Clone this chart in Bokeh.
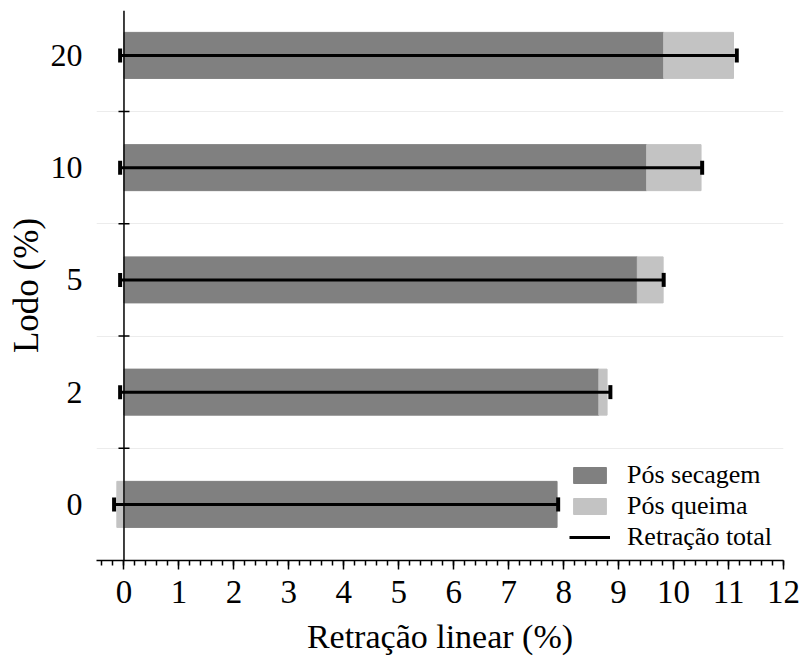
import numpy as np
from bokeh.plotting import figure
from bokeh.models import (FixedTicker, SingleIntervalTicker, Span, Legend,
                          LegendItem, Range1d)
from bokeh.embed import file_html
from bokeh.resources import INLINE

# ---- data ----
lodo = ["0", "2", "5", "10", "20"]                      # Lodo (%)
pos_secagem = [7.88, 8.64, 9.34, 9.51, 9.82]            # Retração pós secagem (%)
pos_queima = [-0.13, 0.15, 0.47, 0.99, 1.27]            # Retração pós queima (%)
retracao_total = [7.90, 8.85, 9.82, 10.52, 11.15]       # Retração total (%)
inicio_total = [-0.18, -0.07, -0.07, -0.07, -0.07]      # start of the total bar line
x_ticks = list(range(0, 13))

FONT = "Liberation Serif"
DARK = "#808080"
LIGHT = "#c3c3c3"

ypos = np.arange(len(lodo), dtype=float)
sec = np.array(pos_secagem)
q = np.array(pos_queima)
q_left = np.where(q >= 0, sec, 0.0)
q_right = np.where(q >= 0, sec + q, q)
limites = list(ypos[:-1] + 0.5)

p = figure(width=800, height=657,
           x_range=Range1d(-0.5, 12), y_range=Range1d(-0.5, 4.4),
           output_backend="svg", toolbar_location=None,
           min_border_left=96, min_border_right=17,
           min_border_top=10, min_border_bottom=94)
p.outline_line_color = None
p.background_fill_color = "white"

r_sec = p.hbar(y=ypos, left=0, right=sec, height=0.41,
               fill_color=DARK, line_color=DARK)
r_q = p.hbar(y=ypos, left=q_left, right=q_right, height=0.41,
             fill_color=LIGHT, line_color=LIGHT)

# vertical axis line at x = 0
p.add_layout(Span(location=0, dimension="height", line_color="black",
                  line_width=1.5))
# boundary ticks on the y axis
p.scatter(x=0, y=limites, marker="dash", size=11, line_width=1.5,
          line_color="black")

# total shrinkage lines with caps
r_err = p.segment(x0=inicio_total, y0=ypos, x1=retracao_total, y1=ypos,
                  line_color="black", line_width=3)
p.scatter(x=inicio_total, y=ypos, marker="dash", angle=np.pi / 2, size=14,
          line_width=4, line_color="black")
p.scatter(x=retracao_total, y=ypos, marker="dash", angle=np.pi / 2, size=14,
          line_width=4, line_color="black")

# x axis
xa = p.xaxis[0]
xa.ticker = SingleIntervalTicker(interval=1, num_minor_ticks=5)
xa.axis_label = "Retração linear (%)"
xa.axis_line_width = 1.5
xa.major_tick_line_width = 1.5
xa.minor_tick_line_width = 1.5
xa.major_tick_in = 0
xa.major_tick_out = 9
xa.minor_tick_in = 0
xa.minor_tick_out = 5
xa.major_label_text_font = FONT
xa.major_label_text_font_size = "33px"
xa.major_label_text_color = "black"
xa.major_label_standoff = 11
xa.axis_label_text_font = FONT
xa.axis_label_text_font_size = "34px"
xa.axis_label_text_font_style = "normal"
xa.axis_label_text_color = "black"
xa.axis_label_standoff = 12

# y axis (labels only; the line is the span at x = 0)
ya = p.yaxis[0]
ya.ticker = FixedTicker(ticks=list(ypos))
ya.major_label_overrides = {float(i): s for i, s in enumerate(lodo)}
ya.axis_line_color = None
ya.major_tick_line_color = None
ya.minor_tick_line_color = None
ya.major_label_standoff = 8
ya.major_label_text_font = FONT
ya.major_label_text_font_size = "32px"
ya.major_label_text_color = "black"
ya.axis_label = "Lodo (%)"
ya.axis_label_text_font = FONT
ya.axis_label_text_font_size = "35px"
ya.axis_label_text_font_style = "normal"
ya.axis_label_text_color = "black"
ya.axis_label_standoff = 2

p.xgrid.grid_line_color = None
p.ygrid.ticker = FixedTicker(ticks=limites)
p.ygrid.grid_line_color = "#ececec"
p.ygrid.grid_line_width = 1

legend = Legend(items=[
    LegendItem(label="Pós secagem", renderers=[r_sec]),
    LegendItem(label="Pós queima", renderers=[r_q]),
    LegendItem(label="Retração total", renderers=[r_err]),
], location=(473, 8), glyph_width=41, glyph_height=20,
    label_text_font=FONT, label_text_font_size="26px",
    label_text_color="black", label_standoff=17, spacing=1,
    padding=0, margin=0, border_line_color=None, background_fill_alpha=0)
p.add_layout(legend)

open("out.html", "w").write(file_html(p, INLINE))
